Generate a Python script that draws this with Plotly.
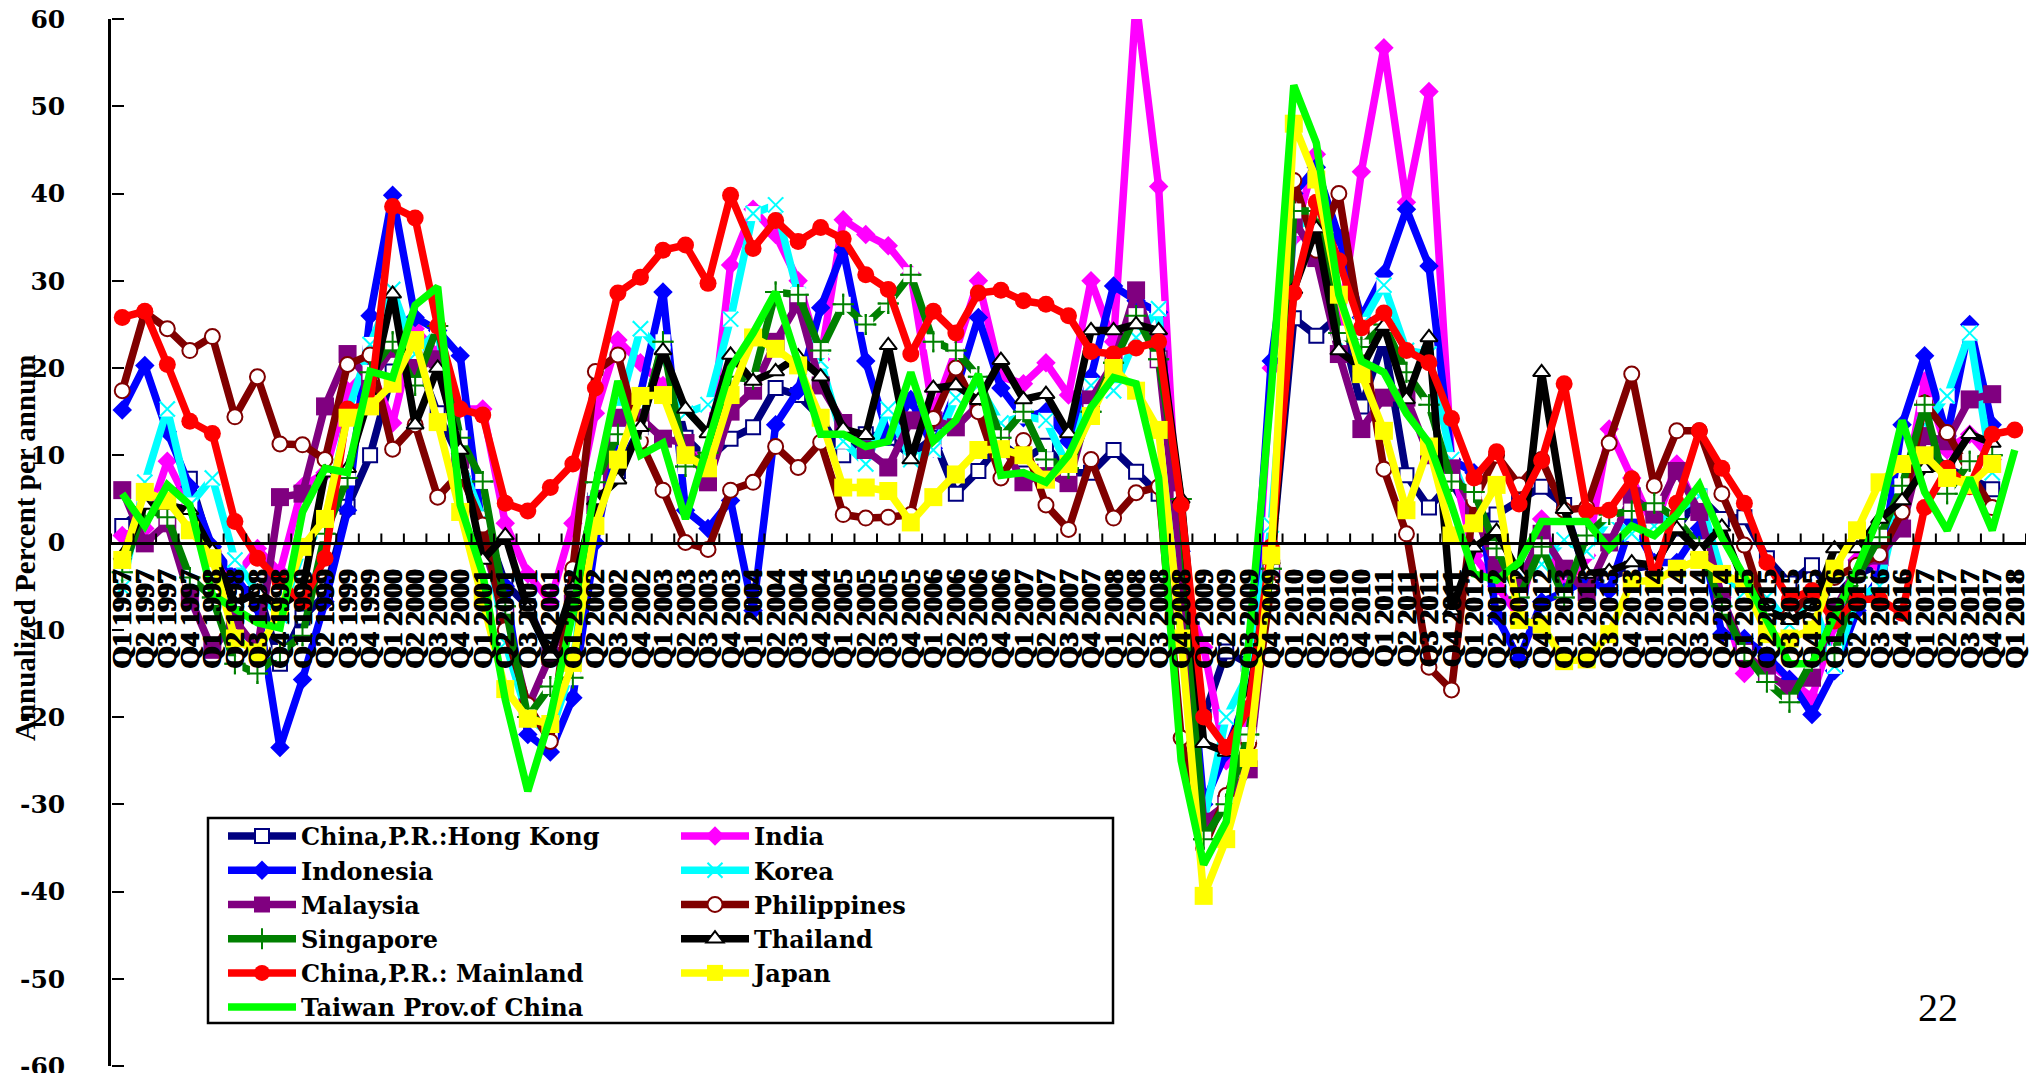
import plotly.graph_objects as go

quarters = [f"Q{q} {y}" for y in range(1997, 2018) for q in (1, 2, 3, 4)] + ["Q1 2018"]
positions = list(range(len(quarters)))
y_ticks = [60, 50, 40, 30, 20, 10, 0, -10, -20, -30, -40, -50, -60]
y_tick_labels = ["60", "50", "40", "30", "20", "10", "0", "-10", "-20", "-30", "-40", "-50", "-60"]

hong_kong = [1.9,4,4.8,7.3,-1.3,-5.7,-5.2,-13.9,-8.6,-6,
 4.1,10,19.6,21.6,14.8,9.5,2.7,-4.7,-7.3,-13.1,
 -5.7,4.8,8.2,13.2,22.7,12,9.5,11.9,13.2,17.7,
 16.9,14.3,10,12.4,12,10,12,5.6,8.2,11.4,
 9.5,11.1,8,8,10.6,8.1,5.6,-3,-20,-12.5,
 -13.9,-2,25.7,23.7,26,15.6,23.2,7.7,4,6.9,
 2.7,3.2,4.8,6.4,4.3,-4,-4,-3,-2.6,1.6,
 5.3,2.7,2.9,-1.8,-4.7,-2.6,-6.3,-3.6,-2.6,4.8,
 11,8.5,7.4,6.1,None]
india = [0.8,1.6,9.3,4.3,-1,-4,-0.7,-3.4,6.4,8,
 17.4,20,13.7,24.5,21.6,15.3,15.3,2.2,-3.6,-6.8,
 2.2,14.8,23.2,20.6,18,10,10,31.8,38.2,35.3,
 30,21,37,35.3,34,30.8,14.8,22,30,19,
 18.2,20.6,16.9,30,23,62,40.8,-5,-12,-25,
 -20,20,35,44.5,24,42.5,56.7,39,51.7,9.5,
 -1.5,-5,-8.4,2.7,-5.2,-1.5,13,7.4,1.6,9,
 3.2,-6.3,-15,-13.6,-15.7,-17.8,-9.4,-2,-2.6,4.3,
 18.5,10.6,12.4,9.5,None]
indonesia = [15.2,20.3,12.7,6.4,-0.5,-4,-7.3,-23.5,-15.7,-6.8,
 3.7,26,39.8,25.8,24.3,21.4,1,-5,-22,-24,
 -17.8,0,13,17,28.7,3.7,1.6,4.8,-7.8,13.5,
 17.4,26.9,33.5,20.8,12.2,16.4,10.8,17.4,25.8,17.7,
 14.3,15,11.6,19,29.4,27.7,26.4,-1,-30,-24,
 -17,20.8,40,43,35,25.8,30.8,38.2,31.7,9.5,
 8,-8.4,-13.4,-6.8,-5.7,-4.2,-5.5,2.4,-2.3,-2.3,
 1.6,-10.5,-11,-13,-15.7,-19.7,-14.7,-7.8,-4,13.5,
 21.4,12.2,25,13.5,None]
korea = [-5.2,6.9,15.3,4.3,7.4,-2,-5.7,-8.4,-1,2.2,
 14.8,22.7,29,21.6,24.3,9.5,2.7,-11.5,-20,-22,
 -14,6,14.8,24.5,21.6,14.8,15.8,25.6,37.7,38.7,
 28.4,20.8,11.6,9,15.3,9.5,10.6,16.6,18,13.7,
 14.5,14,8.5,18,17.4,23.5,26.8,-8,-32,-20,
 -15,2,36,37.4,23,25,29.5,22,21.6,9.5,
 3.2,-1.8,-3,-2.5,0.3,-1,2.7,1,1.9,3.7,
 5.3,-3.6,-5.7,-6.3,-9.4,-6.3,-14.2,-6.3,-5,6.4,
 13.5,16.8,24,8,None]
malaysia = [6,-0.1,2.2,-6.3,-12.3,-8.9,-12.3,5.2,5.6,15.6,
 21.6,18.5,22.2,20,21,9.5,0,-8.4,-18.9,-13,
 -7,4.3,14.3,14.3,11.9,11.4,6.9,15,17.4,23,
 27.4,18,13.7,10.6,8.6,14,14,13.2,15.8,11.6,
 6.9,8,6.8,16.4,20.6,28.9,21,-3,-32,-30,
 -26,-3,37,32.6,21.6,13,16.6,16.6,10,8.5,
 3.7,-3,-4.7,1,-3,-5.7,0,5.3,3.2,8.2,
 3.5,-6.3,-12.6,-15,-16.8,-15.5,-7.8,-3,-1.5,1.6,
 12.2,11.6,16.4,17,None]
philippines = [17.4,26.4,24.5,22,23.6,14.4,19,11.3,11.2,9.5,
 20.4,21.5,10.7,13.5,5.2,8,2,-10,-18.6,-22.8,
 -3,19.6,21.5,11.6,6,0,-0.8,6,6.9,11,
 8.6,11.5,3.2,2.8,2.9,3.2,14.2,20,15,7.4,
 11.7,4.3,1.5,9.5,2.8,5.7,6.4,-22.4,-35,-29,
 -23,-5,41.5,33.5,40,24,8.4,1,-14.3,-16.9,
 4.8,10,6.6,9.5,3.7,4,11.4,19.3,6.5,12.8,
 12.8,5.6,-0.3,-8.4,-8.4,-5.7,-4,-2.6,-1.4,3.5,
 16,12.6,8,4,None]
singapore = [-3.4,4,2.9,-4,-6.3,-13.9,-15,-12.6,-10.7,1,
 7.4,19.5,23,18,24.8,12,7,-7.3,-20,-16.5,
 -15.5,6.9,12.4,13,23,8.7,10.3,19,18.7,28.7,
 28.4,22,27.3,25,27.4,30.7,23,22,19,12,
 15,9.5,8.5,15,20.6,26,21,5,-34,-30,
 -22,-3,38,38,24,22.4,25,19.5,15.8,7,
 5.8,-0.7,-6.3,-0.5,-6.3,0.8,3.2,3.6,4.5,2.7,
 -0.5,-7.3,-12.6,-16,-18.3,-13.6,-12.7,-4,0.6,6.5,
 15.8,5.6,9.3,10,None]
thailand = [-1.5,4.3,4.3,3.7,-1,-7,-5.7,-7.3,-5.5,8,
 8.5,17,28.5,13.5,20,10.6,-2,0.8,-7.6,-13,
 -5.2,4.8,7.2,13.2,22,15.3,12.5,21.5,18.5,19.6,
 21.3,19,13,12.3,22.6,9.5,17.7,18,16.3,20.9,
 16.4,17,12.5,24.3,24.3,25,24.3,5,-23,-24,
 -18,-2,29,36,22,20,24.8,16.4,23.5,-7.8,
 -0.6,1.3,-3.6,19.5,3.8,-3.6,-3.3,-2.3,-2.6,1.6,
 -1,1.8,-4.7,-7.8,-8.9,-7.8,-0.7,-0.7,2.7,4.8,
 8.5,8.5,12.4,11.4,None]
mainland = [25.8,26.5,20.4,13.9,12.5,2.4,-1.8,-4.5,-6.8,-1.8,
 15.3,15.8,38.5,37.2,24.8,15.3,14.6,4.5,3.6,6.3,
 9,17.7,28.6,30.4,33.5,34.1,29.7,39.8,33.7,36.9,
 34.5,36.1,34.8,30.7,29,21.6,26.5,24,28.6,28.9,
 27.7,27.3,26,21.9,21.6,22.3,23,4.3,-20,-23.5,
 -19,-0.5,28.6,39,32.3,24.6,26.3,22,20.6,14.2,
 7.4,10.4,4.4,9.4,18.2,3.6,3.7,7.3,-4.2,4.5,
 12.8,8.5,4.5,-2.3,-6.5,-5.5,-9,-6.5,-6.5,-8.1,
 4,8.5,6.4,12.4,12.9]
japan = [-2,5.8,4.8,1.4,-1.8,-11,-12.6,-7.8,-0.5,2.7,
 14.3,15.6,18.2,23.2,13.8,3.5,-6.3,-16.8,-20.2,-20.8,
 -13.8,1.9,9.5,16.8,16.9,10,8.5,16.9,23.5,22.2,
 20.3,14.3,6.3,6.3,5.9,2.3,5.2,7.8,10.6,10.7,
 10,7.2,9,14.5,20,17.4,12.9,-11,-40.5,-34,
 -24.7,-1.5,48,41.6,28.4,19.3,12.8,3.7,11,0.8,
 2.2,6.6,-8.9,-9.4,-13.6,-13.4,-10.5,-4.4,-4.4,-3,
 -2,-3.6,-4.7,-10.5,-11,-10,-3,1.4,6.9,9,
 10,7.4,6.6,9,None]
taiwan = [5.6,1.9,6.6,4.3,-6,-7.6,-9.2,-9.8,3.5,8.5,
 8,19.6,18.9,27.2,29.3,4.3,-3.6,-18,-28.5,-20,
 -8,6.4,18.5,10,11.4,2.7,11,20,24,28.7,
 20.6,12.4,12.4,11,11.6,19.5,11.6,14,19.3,7.7,
 8,6.9,10,15.5,18.9,18.2,7.4,-25,-36.9,-32,
 -11.5,17.4,52.4,45.8,28.4,20.8,19.5,14.8,11.4,4.3,
 -3.6,-4.3,-2.3,2.4,2.4,2.4,-0.7,1.9,0.8,3.2,
 6.6,0.6,-3.9,-8.9,-13.9,-13.9,-8.4,-3,3.2,14,
 5.8,1.4,7.4,1.4,10.6]

# page-pixel geometry of the plot area; the page body adds an 8 px offset
OFF = 8
X0, X1, Y0, Y1 = 111, 2026, 19, 1066
W, H = 2037 - 2 * OFF, 1081 - 2 * OFF
L, T = X0 - OFF, Y0 - OFF
R, B = W - (X1 - OFF), H - (Y1 - OFF)
SERIF = "Liberation Serif"
WIDE = "DejaVu Serif"

def px_x(p): return (p - X0) / (X1 - X0)
def px_y(p): return 1 - (p - Y0) / (Y1 - Y0)

fig = go.Figure()

def add(name, ys, color, legend, symbol=None, size=0, fill=None, mline=0, mcolor=None, backing=False):
    mode = "lines+markers" if symbol else "lines"
    marker = dict(symbol=symbol, size=size, color=fill or color,
                  line=dict(width=mline, color=mcolor or color)) if symbol else None
    fig.add_trace(go.Scatter(x=positions, y=ys, name=name, mode=mode, legend=legend, legendgroup=name,
                             line=dict(color=color, width=7.5), marker=marker, connectgaps=False))
    if backing:
        fig.add_trace(go.Scatter(x=positions, y=ys, mode="markers", showlegend=False, hoverinfo="skip",
                                 marker=dict(symbol="square", size=size, color="white")))
        fig.add_trace(go.Scatter(x=positions, y=ys, mode="markers", showlegend=False, hoverinfo="skip",
                                 marker=marker))

add("China,P.R.:Hong Kong", hong_kong, "#000080", "legend", "square", 14, "white", 2)
add("India", india, "#FF00FF", "legend2", "diamond", 15)
add("Indonesia", indonesia, "#0000FF", "legend", "diamond", 15)
add("Korea", korea, "#00FFFF", "legend2", "x-thin-open", 15, None, 2, backing=True)
add("Malaysia", malaysia, "#800080", "legend", "square", 18)
add("Philippines", philippines, "#800000", "legend2", "circle", 15, "white", 2)
add("Singapore", singapore, "#008000", "legend", "cross-thin-open", 15, None, 2, backing=True)
add("Thailand", thailand, "#000000", "legend2", "triangle-up", 15, "white", 2)
add("China,P.R.: Mainland", mainland, "#FF0000", "legend", "circle", 17)
add("Japan", japan, "#FFFF00", "legend2", "square", 18)
add("Taiwan Prov.of China", taiwan, "#00FF00", "legend")

# invisible trace that carries the overlaying y axis whose outside ticks point into the plot
fig.add_trace(go.Scatter(x=positions, y=[0] * len(positions), yaxis="y2", mode="lines",
                         line=dict(width=0, color="rgba(0,0,0,0)"),
                         showlegend=False, hoverinfo="skip"))

# category-boundary tick marks rising from the zero line
TICK_UP = 9 / ((Y1 - Y0) / 120)
tick_shapes = [dict(type="line", xref="x", yref="y", x0=i - 0.5, x1=i - 0.5, y0=0, y1=TICK_UP,
                    line=dict(color="black", width=2), layer="above")
               for i in range(len(quarters) + 1)]

legend_common = dict(
    font=dict(family=WIDE, size=24, color="black", weight=700),
    bgcolor="rgba(0,0,0,0)", borderwidth=0, itemwidth=68, tracegroupgap=0,
    xanchor="left", yanchor="top", itemsizing="trace",
)

fig.update_layout(
    width=W, height=H, autosize=False,
    margin=dict(l=L, r=R, t=T, b=B, pad=0),
    paper_bgcolor="white", plot_bgcolor="white",
    font=dict(family=SERIF, color="black"),
    showlegend=True,
    legend=dict(x=px_x(223), y=px_y(814), **legend_common),
    legend2=dict(x=px_x(676), y=px_y(814), **legend_common),
    xaxis=dict(
        type="linear", range=[-0.5, 84.5], tickmode="array", tickvals=positions, ticktext=quarters,
        anchor="free", position=0.5, side="bottom", layer="above traces",
        showline=True, linecolor="black", linewidth=2.5, showgrid=False, zeroline=False,
        ticks="", tickangle=-90, ticklabelstandoff=14, ticklabeloverflow="allow",
        tickfont=dict(family=SERIF, size=28, color="black", weight=700,
                      shadow="1px 0px 0px black, -1px 0px 0px black"),
        automargin=False,
    ),
    yaxis=dict(
        range=[-60, 60], tickmode="array", tickvals=y_ticks, ticktext=y_tick_labels,
        layer="above traces",
        showline=True, linecolor="black", linewidth=2.5, showgrid=False, zeroline=False,
        ticks="", ticklabelstandoff=38, ticklabeloverflow="allow",
        tickfont=dict(family=WIDE, size=25, color="black", weight=700),
        automargin=False,
    ),
    yaxis2=dict(
        range=[-60, 60], tickmode="array", tickvals=y_ticks, overlaying="y",
        anchor="free", position=0, side="right", layer="above traces",
        showline=False, showgrid=False, zeroline=False, showticklabels=False,
        ticks="outside", ticklen=12, tickwidth=2, tickcolor="black", automargin=False,
    ),
    shapes=tick_shapes + [dict(type="rect", xref="paper", yref="paper",
                 x0=px_x(208), x1=px_x(1113), y0=px_y(1023), y1=px_y(818),
                 line=dict(color="black", width=2.5), fillcolor="white", layer="above")],
    annotations=[
        dict(text="Annualized Percent per annum", xref="paper", yref="paper",
             x=px_x(25), y=px_y(548), textangle=-90, showarrow=False,
             xanchor="center", yanchor="middle",
             font=dict(family=SERIF, size=29, color="black", weight=700)),
        dict(text="22", xref="paper", yref="paper",
             x=px_x(1938), y=px_y(1007), showarrow=False,
             xanchor="center", yanchor="middle",
             font=dict(family=SERIF, size=40, color="black")),
    ],
)

fig.write_html("out.html")
